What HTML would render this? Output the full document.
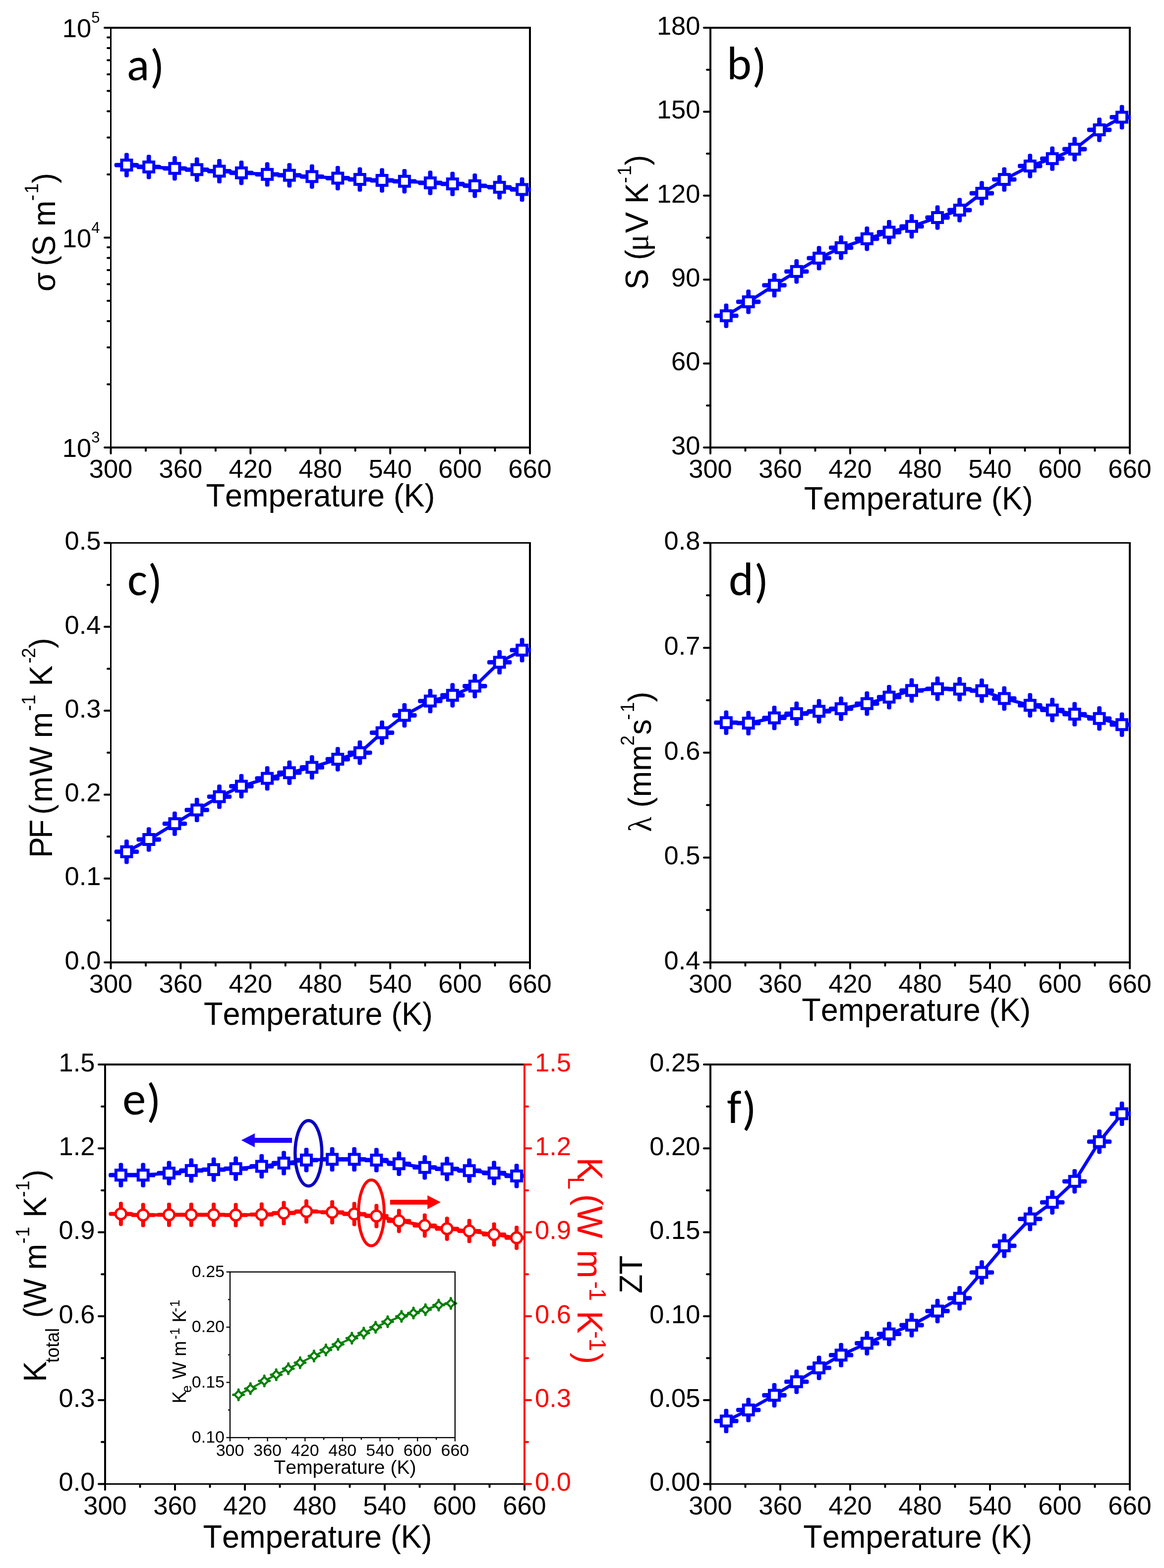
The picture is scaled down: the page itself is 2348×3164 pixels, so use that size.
<!DOCTYPE html>
<html><head><meta charset="utf-8"><title>Figure</title>
<style>html,body{margin:0;padding:0;background:#fff;}svg{display:block;}</style>
</head><body>
<svg width="2348" height="3164" viewBox="0 0 2348 3164" font-family='"Liberation Sans", Arial, sans-serif' style="font-kerning:none">
<rect width="2348" height="3164" fill="#fff"/>
<rect x="222" y="54" width="849" height="4" fill="#000"/>
<rect x="222" y="901" width="849" height="4" fill="#000"/>
<rect x="222" y="54" width="3" height="851" fill="#000"/>
<rect x="1067" y="54" width="4" height="851" fill="#000"/>
<line x1="222" y1="903.0" x2="211" y2="903.0" stroke="#000" stroke-width="4" stroke-linecap="round"/>
<line x1="222" y1="479.5" x2="211" y2="479.5" stroke="#000" stroke-width="4" stroke-linecap="round"/>
<line x1="222" y1="56.0" x2="211" y2="56.0" stroke="#000" stroke-width="4" stroke-linecap="round"/>
<line x1="222" y1="775.513796836304" x2="217" y2="775.513796836304" stroke="#000" stroke-width="4" stroke-linecap="round"/>
<line x1="222" y1="700.939148626223" x2="217" y2="700.939148626223" stroke="#000" stroke-width="4" stroke-linecap="round"/>
<line x1="222" y1="648.027593672608" x2="217" y2="648.027593672608" stroke="#000" stroke-width="4" stroke-linecap="round"/>
<line x1="222" y1="606.986203163696" x2="217" y2="606.986203163696" stroke="#000" stroke-width="4" stroke-linecap="round"/>
<line x1="222" y1="573.4529454625269" x2="217" y2="573.4529454625269" stroke="#000" stroke-width="4" stroke-linecap="round"/>
<line x1="222" y1="545.1009800539623" x2="217" y2="545.1009800539623" stroke="#000" stroke-width="4" stroke-linecap="round"/>
<line x1="222" y1="520.541390508912" x2="217" y2="520.541390508912" stroke="#000" stroke-width="4" stroke-linecap="round"/>
<line x1="222" y1="498.8782972524459" x2="217" y2="498.8782972524459" stroke="#000" stroke-width="4" stroke-linecap="round"/>
<line x1="222" y1="352.013796836304" x2="217" y2="352.013796836304" stroke="#000" stroke-width="4" stroke-linecap="round"/>
<line x1="222" y1="277.43914862622296" x2="217" y2="277.43914862622296" stroke="#000" stroke-width="4" stroke-linecap="round"/>
<line x1="222" y1="224.52759367260785" x2="217" y2="224.52759367260785" stroke="#000" stroke-width="4" stroke-linecap="round"/>
<line x1="222" y1="183.48620316369602" x2="217" y2="183.48620316369602" stroke="#000" stroke-width="4" stroke-linecap="round"/>
<line x1="222" y1="149.95294546252694" x2="217" y2="149.95294546252694" stroke="#000" stroke-width="4" stroke-linecap="round"/>
<line x1="222" y1="121.60098005396219" x2="217" y2="121.60098005396219" stroke="#000" stroke-width="4" stroke-linecap="round"/>
<line x1="222" y1="97.04139050891195" x2="217" y2="97.04139050891195" stroke="#000" stroke-width="4" stroke-linecap="round"/>
<line x1="222" y1="75.37829725244592" x2="217" y2="75.37829725244592" stroke="#000" stroke-width="4" stroke-linecap="round"/>
<line x1="223.5" y1="905" x2="223.5" y2="915" stroke="#000" stroke-width="4" stroke-linecap="round"/>
<text x="223.5" y="964.0" font-size="52.5" text-anchor="middle">300</text>
<line x1="294.0" y1="905" x2="294.0" y2="909.5" stroke="#000" stroke-width="4" stroke-linecap="round"/>
<line x1="364.4" y1="905" x2="364.4" y2="915" stroke="#000" stroke-width="4" stroke-linecap="round"/>
<text x="364.4" y="964.0" font-size="52.5" text-anchor="middle">360</text>
<line x1="434.9" y1="905" x2="434.9" y2="909.5" stroke="#000" stroke-width="4" stroke-linecap="round"/>
<line x1="505.3" y1="905" x2="505.3" y2="915" stroke="#000" stroke-width="4" stroke-linecap="round"/>
<text x="505.3" y="964.0" font-size="52.5" text-anchor="middle">420</text>
<line x1="575.8" y1="905" x2="575.8" y2="909.5" stroke="#000" stroke-width="4" stroke-linecap="round"/>
<line x1="646.2" y1="905" x2="646.2" y2="915" stroke="#000" stroke-width="4" stroke-linecap="round"/>
<text x="646.2" y="964.0" font-size="52.5" text-anchor="middle">480</text>
<line x1="716.7" y1="905" x2="716.7" y2="909.5" stroke="#000" stroke-width="4" stroke-linecap="round"/>
<line x1="787.2" y1="905" x2="787.2" y2="915" stroke="#000" stroke-width="4" stroke-linecap="round"/>
<text x="787.2" y="964.0" font-size="52.5" text-anchor="middle">540</text>
<line x1="857.6" y1="905" x2="857.6" y2="909.5" stroke="#000" stroke-width="4" stroke-linecap="round"/>
<line x1="928.1" y1="905" x2="928.1" y2="915" stroke="#000" stroke-width="4" stroke-linecap="round"/>
<text x="928.1" y="964.0" font-size="52.5" text-anchor="middle">600</text>
<line x1="998.5" y1="905" x2="998.5" y2="909.5" stroke="#000" stroke-width="4" stroke-linecap="round"/>
<line x1="1069.0" y1="905" x2="1069.0" y2="915" stroke="#000" stroke-width="4" stroke-linecap="round"/>
<text x="1069.0" y="964.0" font-size="52.5" text-anchor="middle">660</text>
<clipPath id="c1"><rect x="222" y="54" width="849" height="851"/></clipPath><g clip-path="url(#c1)">
<path d="M255.4,333.1 L300.2,336.9 L352.4,339.8 L397.2,342.3 L442.5,345.4 L486.9,348.8 L539.1,351.9 L583.8,353.7 L629.3,356.3 L681.3,359.5 L725.9,362.1 L770.6,364.0 L815.9,365.8 L867.9,369.0 L912.8,371.1 L957.8,374.8 L1007.6,377.9 L1053.1,382.4" fill="none" stroke="#0000ff" stroke-width="6.6" stroke-linejoin="round"/>
<g fill="#0000ff"><rect x="251.0" y="308.4" width="8.8" height="49.4" rx="3.4"/><rect x="230.7" y="328.7" width="49.4" height="8.8" rx="3.4"/><rect x="295.8" y="312.2" width="8.8" height="49.4" rx="3.4"/><rect x="275.5" y="332.5" width="49.4" height="8.8" rx="3.4"/><rect x="348.0" y="315.1" width="8.8" height="49.4" rx="3.4"/><rect x="327.7" y="335.4" width="49.4" height="8.8" rx="3.4"/><rect x="392.8" y="317.6" width="8.8" height="49.4" rx="3.4"/><rect x="372.5" y="337.9" width="49.4" height="8.8" rx="3.4"/><rect x="438.1" y="320.7" width="8.8" height="49.4" rx="3.4"/><rect x="417.8" y="341.0" width="49.4" height="8.8" rx="3.4"/><rect x="482.5" y="324.1" width="8.8" height="49.4" rx="3.4"/><rect x="462.2" y="344.4" width="49.4" height="8.8" rx="3.4"/><rect x="534.7" y="327.2" width="8.8" height="49.4" rx="3.4"/><rect x="514.4" y="347.5" width="49.4" height="8.8" rx="3.4"/><rect x="579.4" y="329.0" width="8.8" height="49.4" rx="3.4"/><rect x="559.1" y="349.3" width="49.4" height="8.8" rx="3.4"/><rect x="624.9" y="331.6" width="8.8" height="49.4" rx="3.4"/><rect x="604.6" y="351.9" width="49.4" height="8.8" rx="3.4"/><rect x="676.9" y="334.8" width="8.8" height="49.4" rx="3.4"/><rect x="656.6" y="355.1" width="49.4" height="8.8" rx="3.4"/><rect x="721.5" y="337.4" width="8.8" height="49.4" rx="3.4"/><rect x="701.2" y="357.7" width="49.4" height="8.8" rx="3.4"/><rect x="766.2" y="339.3" width="8.8" height="49.4" rx="3.4"/><rect x="745.9" y="359.6" width="49.4" height="8.8" rx="3.4"/><rect x="811.5" y="341.1" width="8.8" height="49.4" rx="3.4"/><rect x="791.2" y="361.4" width="49.4" height="8.8" rx="3.4"/><rect x="863.5" y="344.3" width="8.8" height="49.4" rx="3.4"/><rect x="843.2" y="364.6" width="49.4" height="8.8" rx="3.4"/><rect x="908.4" y="346.4" width="8.8" height="49.4" rx="3.4"/><rect x="888.1" y="366.7" width="49.4" height="8.8" rx="3.4"/><rect x="953.4" y="350.1" width="8.8" height="49.4" rx="3.4"/><rect x="933.1" y="370.4" width="49.4" height="8.8" rx="3.4"/><rect x="1003.2" y="353.2" width="8.8" height="49.4" rx="3.4"/><rect x="982.9" y="373.5" width="49.4" height="8.8" rx="3.4"/><rect x="1048.7" y="357.7" width="8.8" height="49.4" rx="3.4"/><rect x="1028.4" y="378.0" width="49.4" height="8.8" rx="3.4"/></g>
<rect x="245.4" y="323.1" width="20" height="20" fill="#fff" stroke="#0000ff" stroke-width="6"/>
<rect x="290.2" y="326.9" width="20" height="20" fill="#fff" stroke="#0000ff" stroke-width="6"/>
<rect x="342.4" y="329.8" width="20" height="20" fill="#fff" stroke="#0000ff" stroke-width="6"/>
<rect x="387.2" y="332.3" width="20" height="20" fill="#fff" stroke="#0000ff" stroke-width="6"/>
<rect x="432.5" y="335.4" width="20" height="20" fill="#fff" stroke="#0000ff" stroke-width="6"/>
<rect x="476.9" y="338.8" width="20" height="20" fill="#fff" stroke="#0000ff" stroke-width="6"/>
<rect x="529.1" y="341.9" width="20" height="20" fill="#fff" stroke="#0000ff" stroke-width="6"/>
<rect x="573.8" y="343.7" width="20" height="20" fill="#fff" stroke="#0000ff" stroke-width="6"/>
<rect x="619.3" y="346.3" width="20" height="20" fill="#fff" stroke="#0000ff" stroke-width="6"/>
<rect x="671.3" y="349.5" width="20" height="20" fill="#fff" stroke="#0000ff" stroke-width="6"/>
<rect x="715.9" y="352.1" width="20" height="20" fill="#fff" stroke="#0000ff" stroke-width="6"/>
<rect x="760.6" y="354.0" width="20" height="20" fill="#fff" stroke="#0000ff" stroke-width="6"/>
<rect x="805.9" y="355.8" width="20" height="20" fill="#fff" stroke="#0000ff" stroke-width="6"/>
<rect x="857.9" y="359.0" width="20" height="20" fill="#fff" stroke="#0000ff" stroke-width="6"/>
<rect x="902.8" y="361.1" width="20" height="20" fill="#fff" stroke="#0000ff" stroke-width="6"/>
<rect x="947.8" y="364.8" width="20" height="20" fill="#fff" stroke="#0000ff" stroke-width="6"/>
<rect x="997.6" y="367.9" width="20" height="20" fill="#fff" stroke="#0000ff" stroke-width="6"/>
<rect x="1043.1" y="372.4" width="20" height="20" fill="#fff" stroke="#0000ff" stroke-width="6"/>
</g>
<text x="201.5" y="922.0" font-size="52.5" text-anchor="end">10<tspan font-size="31" dy="-29">3</tspan></text>
<text x="201.5" y="498.5" font-size="52.5" text-anchor="end">10<tspan font-size="31" dy="-29">4</tspan></text>
<text x="201.5" y="75.0" font-size="52.5" text-anchor="end">10<tspan font-size="31" dy="-29">5</tspan></text>
<rect x="1431" y="54" width="850" height="4" fill="#000"/>
<rect x="1431" y="901" width="850" height="4" fill="#000"/>
<rect x="1431" y="54" width="4" height="851" fill="#000"/>
<rect x="2277" y="54" width="4" height="851" fill="#000"/>
<line x1="1431" y1="903.0" x2="1420" y2="903.0" stroke="#000" stroke-width="4" stroke-linecap="round"/>
<line x1="1431" y1="733.6" x2="1420" y2="733.6" stroke="#000" stroke-width="4" stroke-linecap="round"/>
<line x1="1431" y1="564.2" x2="1420" y2="564.2" stroke="#000" stroke-width="4" stroke-linecap="round"/>
<line x1="1431" y1="394.79999999999995" x2="1420" y2="394.79999999999995" stroke="#000" stroke-width="4" stroke-linecap="round"/>
<line x1="1431" y1="225.39999999999998" x2="1420" y2="225.39999999999998" stroke="#000" stroke-width="4" stroke-linecap="round"/>
<line x1="1431" y1="56.0" x2="1420" y2="56.0" stroke="#000" stroke-width="4" stroke-linecap="round"/>
<line x1="1431" y1="818.3" x2="1426" y2="818.3" stroke="#000" stroke-width="4" stroke-linecap="round"/>
<line x1="1431" y1="648.9" x2="1426" y2="648.9" stroke="#000" stroke-width="4" stroke-linecap="round"/>
<line x1="1431" y1="479.5" x2="1426" y2="479.5" stroke="#000" stroke-width="4" stroke-linecap="round"/>
<line x1="1431" y1="310.1" x2="1426" y2="310.1" stroke="#000" stroke-width="4" stroke-linecap="round"/>
<line x1="1431" y1="140.69999999999993" x2="1426" y2="140.69999999999993" stroke="#000" stroke-width="4" stroke-linecap="round"/>
<line x1="1433.0" y1="905" x2="1433.0" y2="915" stroke="#000" stroke-width="4" stroke-linecap="round"/>
<text x="1433.0" y="964.0" font-size="52.5" text-anchor="middle">300</text>
<line x1="1503.5" y1="905" x2="1503.5" y2="909.5" stroke="#000" stroke-width="4" stroke-linecap="round"/>
<line x1="1574.0" y1="905" x2="1574.0" y2="915" stroke="#000" stroke-width="4" stroke-linecap="round"/>
<text x="1574.0" y="964.0" font-size="52.5" text-anchor="middle">360</text>
<line x1="1644.5" y1="905" x2="1644.5" y2="909.5" stroke="#000" stroke-width="4" stroke-linecap="round"/>
<line x1="1715.0" y1="905" x2="1715.0" y2="915" stroke="#000" stroke-width="4" stroke-linecap="round"/>
<text x="1715.0" y="964.0" font-size="52.5" text-anchor="middle">420</text>
<line x1="1785.5" y1="905" x2="1785.5" y2="909.5" stroke="#000" stroke-width="4" stroke-linecap="round"/>
<line x1="1856.0" y1="905" x2="1856.0" y2="915" stroke="#000" stroke-width="4" stroke-linecap="round"/>
<text x="1856.0" y="964.0" font-size="52.5" text-anchor="middle">480</text>
<line x1="1926.5" y1="905" x2="1926.5" y2="909.5" stroke="#000" stroke-width="4" stroke-linecap="round"/>
<line x1="1997.0" y1="905" x2="1997.0" y2="915" stroke="#000" stroke-width="4" stroke-linecap="round"/>
<text x="1997.0" y="964.0" font-size="52.5" text-anchor="middle">540</text>
<line x1="2067.5" y1="905" x2="2067.5" y2="909.5" stroke="#000" stroke-width="4" stroke-linecap="round"/>
<line x1="2138.0" y1="905" x2="2138.0" y2="915" stroke="#000" stroke-width="4" stroke-linecap="round"/>
<text x="2138.0" y="964.0" font-size="52.5" text-anchor="middle">600</text>
<line x1="2208.5" y1="905" x2="2208.5" y2="909.5" stroke="#000" stroke-width="4" stroke-linecap="round"/>
<line x1="2279.0" y1="905" x2="2279.0" y2="915" stroke="#000" stroke-width="4" stroke-linecap="round"/>
<text x="2279.0" y="964.0" font-size="52.5" text-anchor="middle">660</text>
<clipPath id="c2"><rect x="1431" y="54" width="850" height="851"/></clipPath><g clip-path="url(#c2)">
<path d="M1464.9,637.2 L1509.7,609.0 L1562.0,575.6 L1606.8,547.8 L1652.1,520.9 L1696.6,499.8 L1748.8,481.8 L1793.5,468.5 L1839.0,456.8 L1891.1,439.0 L1935.7,424.0 L1980.4,390.0 L2025.8,362.1 L2077.8,335.0 L2122.7,320.1 L2167.7,301.0 L2217.6,262.0 L2263.1,236.5" fill="none" stroke="#0000ff" stroke-width="6.6" stroke-linejoin="round"/>
<g fill="#0000ff"><rect x="1460.5" y="612.5" width="8.8" height="49.4" rx="3.4"/><rect x="1440.2" y="632.8" width="49.4" height="8.8" rx="3.4"/><rect x="1505.3" y="584.3" width="8.8" height="49.4" rx="3.4"/><rect x="1485.0" y="604.6" width="49.4" height="8.8" rx="3.4"/><rect x="1557.6" y="550.9" width="8.8" height="49.4" rx="3.4"/><rect x="1537.3" y="571.2" width="49.4" height="8.8" rx="3.4"/><rect x="1602.4" y="523.1" width="8.8" height="49.4" rx="3.4"/><rect x="1582.1" y="543.4" width="49.4" height="8.8" rx="3.4"/><rect x="1647.7" y="496.2" width="8.8" height="49.4" rx="3.4"/><rect x="1627.4" y="516.5" width="49.4" height="8.8" rx="3.4"/><rect x="1692.2" y="475.1" width="8.8" height="49.4" rx="3.4"/><rect x="1671.9" y="495.4" width="49.4" height="8.8" rx="3.4"/><rect x="1744.4" y="457.1" width="8.8" height="49.4" rx="3.4"/><rect x="1724.1" y="477.4" width="49.4" height="8.8" rx="3.4"/><rect x="1789.1" y="443.8" width="8.8" height="49.4" rx="3.4"/><rect x="1768.8" y="464.1" width="49.4" height="8.8" rx="3.4"/><rect x="1834.6" y="432.1" width="8.8" height="49.4" rx="3.4"/><rect x="1814.3" y="452.4" width="49.4" height="8.8" rx="3.4"/><rect x="1886.7" y="414.3" width="8.8" height="49.4" rx="3.4"/><rect x="1866.4" y="434.6" width="49.4" height="8.8" rx="3.4"/><rect x="1931.3" y="399.3" width="8.8" height="49.4" rx="3.4"/><rect x="1911.0" y="419.6" width="49.4" height="8.8" rx="3.4"/><rect x="1976.0" y="365.3" width="8.8" height="49.4" rx="3.4"/><rect x="1955.7" y="385.6" width="49.4" height="8.8" rx="3.4"/><rect x="2021.4" y="337.4" width="8.8" height="49.4" rx="3.4"/><rect x="2001.1" y="357.7" width="49.4" height="8.8" rx="3.4"/><rect x="2073.4" y="310.3" width="8.8" height="49.4" rx="3.4"/><rect x="2053.1" y="330.6" width="49.4" height="8.8" rx="3.4"/><rect x="2118.3" y="295.4" width="8.8" height="49.4" rx="3.4"/><rect x="2098.0" y="315.7" width="49.4" height="8.8" rx="3.4"/><rect x="2163.3" y="276.3" width="8.8" height="49.4" rx="3.4"/><rect x="2143.0" y="296.6" width="49.4" height="8.8" rx="3.4"/><rect x="2213.2" y="237.3" width="8.8" height="49.4" rx="3.4"/><rect x="2192.9" y="257.6" width="49.4" height="8.8" rx="3.4"/><rect x="2258.7" y="211.8" width="8.8" height="49.4" rx="3.4"/><rect x="2238.4" y="232.1" width="49.4" height="8.8" rx="3.4"/></g>
<rect x="1454.9" y="627.2" width="20" height="20" fill="#fff" stroke="#0000ff" stroke-width="6"/>
<rect x="1499.7" y="599.0" width="20" height="20" fill="#fff" stroke="#0000ff" stroke-width="6"/>
<rect x="1552.0" y="565.6" width="20" height="20" fill="#fff" stroke="#0000ff" stroke-width="6"/>
<rect x="1596.8" y="537.8" width="20" height="20" fill="#fff" stroke="#0000ff" stroke-width="6"/>
<rect x="1642.1" y="510.9" width="20" height="20" fill="#fff" stroke="#0000ff" stroke-width="6"/>
<rect x="1686.6" y="489.8" width="20" height="20" fill="#fff" stroke="#0000ff" stroke-width="6"/>
<rect x="1738.8" y="471.8" width="20" height="20" fill="#fff" stroke="#0000ff" stroke-width="6"/>
<rect x="1783.5" y="458.5" width="20" height="20" fill="#fff" stroke="#0000ff" stroke-width="6"/>
<rect x="1829.0" y="446.8" width="20" height="20" fill="#fff" stroke="#0000ff" stroke-width="6"/>
<rect x="1881.1" y="429.0" width="20" height="20" fill="#fff" stroke="#0000ff" stroke-width="6"/>
<rect x="1925.7" y="414.0" width="20" height="20" fill="#fff" stroke="#0000ff" stroke-width="6"/>
<rect x="1970.4" y="380.0" width="20" height="20" fill="#fff" stroke="#0000ff" stroke-width="6"/>
<rect x="2015.8" y="352.1" width="20" height="20" fill="#fff" stroke="#0000ff" stroke-width="6"/>
<rect x="2067.8" y="325.0" width="20" height="20" fill="#fff" stroke="#0000ff" stroke-width="6"/>
<rect x="2112.7" y="310.1" width="20" height="20" fill="#fff" stroke="#0000ff" stroke-width="6"/>
<rect x="2157.7" y="291.0" width="20" height="20" fill="#fff" stroke="#0000ff" stroke-width="6"/>
<rect x="2207.6" y="252.0" width="20" height="20" fill="#fff" stroke="#0000ff" stroke-width="6"/>
<rect x="2253.1" y="226.5" width="20" height="20" fill="#fff" stroke="#0000ff" stroke-width="6"/>
</g>
<text x="1412.5" y="916.7" font-size="52.5" text-anchor="end" fill="#000">30</text>
<text x="1412.5" y="747.3" font-size="52.5" text-anchor="end" fill="#000">60</text>
<text x="1412.5" y="577.9" font-size="52.5" text-anchor="end" fill="#000">90</text>
<text x="1412.5" y="408.5" font-size="52.5" text-anchor="end" fill="#000">120</text>
<text x="1412.5" y="239.1" font-size="52.5" text-anchor="end" fill="#000">150</text>
<text x="1412.5" y="69.7" font-size="52.5" text-anchor="end" fill="#000">180</text>
<rect x="222" y="1094" width="849" height="3" fill="#000"/>
<rect x="222" y="1940" width="849" height="4" fill="#000"/>
<rect x="222" y="1094" width="3" height="850" fill="#000"/>
<rect x="1067" y="1094" width="4" height="850" fill="#000"/>
<line x1="222" y1="1942.0" x2="211" y2="1942.0" stroke="#000" stroke-width="4" stroke-linecap="round"/>
<line x1="222" y1="1772.7" x2="211" y2="1772.7" stroke="#000" stroke-width="4" stroke-linecap="round"/>
<line x1="222" y1="1603.4" x2="211" y2="1603.4" stroke="#000" stroke-width="4" stroke-linecap="round"/>
<line x1="222" y1="1434.1" x2="211" y2="1434.1" stroke="#000" stroke-width="4" stroke-linecap="round"/>
<line x1="222" y1="1264.8" x2="211" y2="1264.8" stroke="#000" stroke-width="4" stroke-linecap="round"/>
<line x1="222" y1="1095.5" x2="211" y2="1095.5" stroke="#000" stroke-width="4" stroke-linecap="round"/>
<line x1="222" y1="1857.35" x2="217" y2="1857.35" stroke="#000" stroke-width="4" stroke-linecap="round"/>
<line x1="222" y1="1688.05" x2="217" y2="1688.05" stroke="#000" stroke-width="4" stroke-linecap="round"/>
<line x1="222" y1="1518.75" x2="217" y2="1518.75" stroke="#000" stroke-width="4" stroke-linecap="round"/>
<line x1="222" y1="1349.4499999999998" x2="217" y2="1349.4499999999998" stroke="#000" stroke-width="4" stroke-linecap="round"/>
<line x1="222" y1="1180.15" x2="217" y2="1180.15" stroke="#000" stroke-width="4" stroke-linecap="round"/>
<line x1="223.5" y1="1944" x2="223.5" y2="1954" stroke="#000" stroke-width="4" stroke-linecap="round"/>
<text x="223.5" y="2003.0" font-size="52.5" text-anchor="middle">300</text>
<line x1="294.0" y1="1944" x2="294.0" y2="1948.5" stroke="#000" stroke-width="4" stroke-linecap="round"/>
<line x1="364.4" y1="1944" x2="364.4" y2="1954" stroke="#000" stroke-width="4" stroke-linecap="round"/>
<text x="364.4" y="2003.0" font-size="52.5" text-anchor="middle">360</text>
<line x1="434.9" y1="1944" x2="434.9" y2="1948.5" stroke="#000" stroke-width="4" stroke-linecap="round"/>
<line x1="505.3" y1="1944" x2="505.3" y2="1954" stroke="#000" stroke-width="4" stroke-linecap="round"/>
<text x="505.3" y="2003.0" font-size="52.5" text-anchor="middle">420</text>
<line x1="575.8" y1="1944" x2="575.8" y2="1948.5" stroke="#000" stroke-width="4" stroke-linecap="round"/>
<line x1="646.2" y1="1944" x2="646.2" y2="1954" stroke="#000" stroke-width="4" stroke-linecap="round"/>
<text x="646.2" y="2003.0" font-size="52.5" text-anchor="middle">480</text>
<line x1="716.7" y1="1944" x2="716.7" y2="1948.5" stroke="#000" stroke-width="4" stroke-linecap="round"/>
<line x1="787.2" y1="1944" x2="787.2" y2="1954" stroke="#000" stroke-width="4" stroke-linecap="round"/>
<text x="787.2" y="2003.0" font-size="52.5" text-anchor="middle">540</text>
<line x1="857.6" y1="1944" x2="857.6" y2="1948.5" stroke="#000" stroke-width="4" stroke-linecap="round"/>
<line x1="928.1" y1="1944" x2="928.1" y2="1954" stroke="#000" stroke-width="4" stroke-linecap="round"/>
<text x="928.1" y="2003.0" font-size="52.5" text-anchor="middle">600</text>
<line x1="998.5" y1="1944" x2="998.5" y2="1948.5" stroke="#000" stroke-width="4" stroke-linecap="round"/>
<line x1="1069.0" y1="1944" x2="1069.0" y2="1954" stroke="#000" stroke-width="4" stroke-linecap="round"/>
<text x="1069.0" y="2003.0" font-size="52.5" text-anchor="middle">660</text>
<clipPath id="c3"><rect x="222" y="1094" width="849" height="850"/></clipPath><g clip-path="url(#c3)">
<path d="M255.4,1718.7 L300.2,1694.0 L352.4,1662.1 L397.2,1634.4 L442.5,1607.6 L486.9,1586.5 L539.1,1570.6 L583.8,1559.2 L629.3,1548.4 L681.3,1532.0 L725.9,1518.8 L770.6,1478.5 L815.9,1443.5 L867.9,1414.6 L912.8,1403.0 L957.8,1384.5 L1007.6,1336.4 L1053.1,1311.9" fill="none" stroke="#0000ff" stroke-width="6.6" stroke-linejoin="round"/>
<g fill="#0000ff"><rect x="251.0" y="1694.0" width="8.8" height="49.4" rx="3.4"/><rect x="230.7" y="1714.3" width="49.4" height="8.8" rx="3.4"/><rect x="295.8" y="1669.3" width="8.8" height="49.4" rx="3.4"/><rect x="275.5" y="1689.6" width="49.4" height="8.8" rx="3.4"/><rect x="348.0" y="1637.4" width="8.8" height="49.4" rx="3.4"/><rect x="327.7" y="1657.7" width="49.4" height="8.8" rx="3.4"/><rect x="392.8" y="1609.7" width="8.8" height="49.4" rx="3.4"/><rect x="372.5" y="1630.0" width="49.4" height="8.8" rx="3.4"/><rect x="438.1" y="1582.9" width="8.8" height="49.4" rx="3.4"/><rect x="417.8" y="1603.2" width="49.4" height="8.8" rx="3.4"/><rect x="482.5" y="1561.8" width="8.8" height="49.4" rx="3.4"/><rect x="462.2" y="1582.1" width="49.4" height="8.8" rx="3.4"/><rect x="534.7" y="1545.9" width="8.8" height="49.4" rx="3.4"/><rect x="514.4" y="1566.2" width="49.4" height="8.8" rx="3.4"/><rect x="579.4" y="1534.5" width="8.8" height="49.4" rx="3.4"/><rect x="559.1" y="1554.8" width="49.4" height="8.8" rx="3.4"/><rect x="624.9" y="1523.7" width="8.8" height="49.4" rx="3.4"/><rect x="604.6" y="1544.0" width="49.4" height="8.8" rx="3.4"/><rect x="676.9" y="1507.3" width="8.8" height="49.4" rx="3.4"/><rect x="656.6" y="1527.6" width="49.4" height="8.8" rx="3.4"/><rect x="721.5" y="1494.1" width="8.8" height="49.4" rx="3.4"/><rect x="701.2" y="1514.4" width="49.4" height="8.8" rx="3.4"/><rect x="766.2" y="1453.8" width="8.8" height="49.4" rx="3.4"/><rect x="745.9" y="1474.1" width="49.4" height="8.8" rx="3.4"/><rect x="811.5" y="1418.8" width="8.8" height="49.4" rx="3.4"/><rect x="791.2" y="1439.1" width="49.4" height="8.8" rx="3.4"/><rect x="863.5" y="1389.9" width="8.8" height="49.4" rx="3.4"/><rect x="843.2" y="1410.2" width="49.4" height="8.8" rx="3.4"/><rect x="908.4" y="1378.3" width="8.8" height="49.4" rx="3.4"/><rect x="888.1" y="1398.6" width="49.4" height="8.8" rx="3.4"/><rect x="953.4" y="1359.8" width="8.8" height="49.4" rx="3.4"/><rect x="933.1" y="1380.1" width="49.4" height="8.8" rx="3.4"/><rect x="1003.2" y="1311.7" width="8.8" height="49.4" rx="3.4"/><rect x="982.9" y="1332.0" width="49.4" height="8.8" rx="3.4"/><rect x="1048.7" y="1287.2" width="8.8" height="49.4" rx="3.4"/><rect x="1028.4" y="1307.5" width="49.4" height="8.8" rx="3.4"/></g>
<rect x="245.4" y="1708.7" width="20" height="20" fill="#fff" stroke="#0000ff" stroke-width="6"/>
<rect x="290.2" y="1684.0" width="20" height="20" fill="#fff" stroke="#0000ff" stroke-width="6"/>
<rect x="342.4" y="1652.1" width="20" height="20" fill="#fff" stroke="#0000ff" stroke-width="6"/>
<rect x="387.2" y="1624.4" width="20" height="20" fill="#fff" stroke="#0000ff" stroke-width="6"/>
<rect x="432.5" y="1597.6" width="20" height="20" fill="#fff" stroke="#0000ff" stroke-width="6"/>
<rect x="476.9" y="1576.5" width="20" height="20" fill="#fff" stroke="#0000ff" stroke-width="6"/>
<rect x="529.1" y="1560.6" width="20" height="20" fill="#fff" stroke="#0000ff" stroke-width="6"/>
<rect x="573.8" y="1549.2" width="20" height="20" fill="#fff" stroke="#0000ff" stroke-width="6"/>
<rect x="619.3" y="1538.4" width="20" height="20" fill="#fff" stroke="#0000ff" stroke-width="6"/>
<rect x="671.3" y="1522.0" width="20" height="20" fill="#fff" stroke="#0000ff" stroke-width="6"/>
<rect x="715.9" y="1508.8" width="20" height="20" fill="#fff" stroke="#0000ff" stroke-width="6"/>
<rect x="760.6" y="1468.5" width="20" height="20" fill="#fff" stroke="#0000ff" stroke-width="6"/>
<rect x="805.9" y="1433.5" width="20" height="20" fill="#fff" stroke="#0000ff" stroke-width="6"/>
<rect x="857.9" y="1404.6" width="20" height="20" fill="#fff" stroke="#0000ff" stroke-width="6"/>
<rect x="902.8" y="1393.0" width="20" height="20" fill="#fff" stroke="#0000ff" stroke-width="6"/>
<rect x="947.8" y="1374.5" width="20" height="20" fill="#fff" stroke="#0000ff" stroke-width="6"/>
<rect x="997.6" y="1326.4" width="20" height="20" fill="#fff" stroke="#0000ff" stroke-width="6"/>
<rect x="1043.1" y="1301.9" width="20" height="20" fill="#fff" stroke="#0000ff" stroke-width="6"/>
</g>
<text x="203.5" y="1955.7" font-size="52.5" text-anchor="end" fill="#000">0.0</text>
<text x="203.5" y="1786.4" font-size="52.5" text-anchor="end" fill="#000">0.1</text>
<text x="203.5" y="1617.1" font-size="52.5" text-anchor="end" fill="#000">0.2</text>
<text x="203.5" y="1447.8" font-size="52.5" text-anchor="end" fill="#000">0.3</text>
<text x="203.5" y="1278.5" font-size="52.5" text-anchor="end" fill="#000">0.4</text>
<text x="203.5" y="1109.2" font-size="52.5" text-anchor="end" fill="#000">0.5</text>
<rect x="1431" y="1094" width="850" height="3" fill="#000"/>
<rect x="1431" y="1940" width="850" height="4" fill="#000"/>
<rect x="1431" y="1094" width="4" height="850" fill="#000"/>
<rect x="2277" y="1094" width="4" height="850" fill="#000"/>
<line x1="1431" y1="1942.0" x2="1420" y2="1942.0" stroke="#000" stroke-width="4" stroke-linecap="round"/>
<line x1="1431" y1="1730.375" x2="1420" y2="1730.375" stroke="#000" stroke-width="4" stroke-linecap="round"/>
<line x1="1431" y1="1518.75" x2="1420" y2="1518.75" stroke="#000" stroke-width="4" stroke-linecap="round"/>
<line x1="1431" y1="1307.125" x2="1420" y2="1307.125" stroke="#000" stroke-width="4" stroke-linecap="round"/>
<line x1="1431" y1="1095.5" x2="1420" y2="1095.5" stroke="#000" stroke-width="4" stroke-linecap="round"/>
<line x1="1431" y1="1836.1875" x2="1426" y2="1836.1875" stroke="#000" stroke-width="4" stroke-linecap="round"/>
<line x1="1431" y1="1624.5625" x2="1426" y2="1624.5625" stroke="#000" stroke-width="4" stroke-linecap="round"/>
<line x1="1431" y1="1412.9375" x2="1426" y2="1412.9375" stroke="#000" stroke-width="4" stroke-linecap="round"/>
<line x1="1431" y1="1201.3125" x2="1426" y2="1201.3125" stroke="#000" stroke-width="4" stroke-linecap="round"/>
<line x1="1433.0" y1="1944" x2="1433.0" y2="1954" stroke="#000" stroke-width="4" stroke-linecap="round"/>
<text x="1433.0" y="2003.0" font-size="52.5" text-anchor="middle">300</text>
<line x1="1503.5" y1="1944" x2="1503.5" y2="1948.5" stroke="#000" stroke-width="4" stroke-linecap="round"/>
<line x1="1574.0" y1="1944" x2="1574.0" y2="1954" stroke="#000" stroke-width="4" stroke-linecap="round"/>
<text x="1574.0" y="2003.0" font-size="52.5" text-anchor="middle">360</text>
<line x1="1644.5" y1="1944" x2="1644.5" y2="1948.5" stroke="#000" stroke-width="4" stroke-linecap="round"/>
<line x1="1715.0" y1="1944" x2="1715.0" y2="1954" stroke="#000" stroke-width="4" stroke-linecap="round"/>
<text x="1715.0" y="2003.0" font-size="52.5" text-anchor="middle">420</text>
<line x1="1785.5" y1="1944" x2="1785.5" y2="1948.5" stroke="#000" stroke-width="4" stroke-linecap="round"/>
<line x1="1856.0" y1="1944" x2="1856.0" y2="1954" stroke="#000" stroke-width="4" stroke-linecap="round"/>
<text x="1856.0" y="2003.0" font-size="52.5" text-anchor="middle">480</text>
<line x1="1926.5" y1="1944" x2="1926.5" y2="1948.5" stroke="#000" stroke-width="4" stroke-linecap="round"/>
<line x1="1997.0" y1="1944" x2="1997.0" y2="1954" stroke="#000" stroke-width="4" stroke-linecap="round"/>
<text x="1997.0" y="2003.0" font-size="52.5" text-anchor="middle">540</text>
<line x1="2067.5" y1="1944" x2="2067.5" y2="1948.5" stroke="#000" stroke-width="4" stroke-linecap="round"/>
<line x1="2138.0" y1="1944" x2="2138.0" y2="1954" stroke="#000" stroke-width="4" stroke-linecap="round"/>
<text x="2138.0" y="2003.0" font-size="52.5" text-anchor="middle">600</text>
<line x1="2208.5" y1="1944" x2="2208.5" y2="1948.5" stroke="#000" stroke-width="4" stroke-linecap="round"/>
<line x1="2279.0" y1="1944" x2="2279.0" y2="1954" stroke="#000" stroke-width="4" stroke-linecap="round"/>
<text x="2279.0" y="2003.0" font-size="52.5" text-anchor="middle">660</text>
<clipPath id="c4"><rect x="1431" y="1094" width="850" height="850"/></clipPath><g clip-path="url(#c4)">
<path d="M1464.9,1458.2 L1509.7,1459.2 L1562.0,1448.6 L1606.8,1440.1 L1652.1,1435.3 L1696.6,1430.1 L1748.8,1419.8 L1793.5,1406.7 L1839.0,1393.3 L1891.1,1389.8 L1935.7,1390.6 L1980.4,1393.7 L2025.8,1409.5 L2077.8,1423.2 L2122.7,1432.7 L2167.7,1441.1 L2217.6,1449.8 L2263.1,1462.2" fill="none" stroke="#0000ff" stroke-width="6.6" stroke-linejoin="round"/>
<g fill="#0000ff"><rect x="1460.5" y="1433.5" width="8.8" height="49.4" rx="3.4"/><rect x="1440.2" y="1453.8" width="49.4" height="8.8" rx="3.4"/><rect x="1505.3" y="1434.5" width="8.8" height="49.4" rx="3.4"/><rect x="1485.0" y="1454.8" width="49.4" height="8.8" rx="3.4"/><rect x="1557.6" y="1423.9" width="8.8" height="49.4" rx="3.4"/><rect x="1537.3" y="1444.2" width="49.4" height="8.8" rx="3.4"/><rect x="1602.4" y="1415.4" width="8.8" height="49.4" rx="3.4"/><rect x="1582.1" y="1435.7" width="49.4" height="8.8" rx="3.4"/><rect x="1647.7" y="1410.6" width="8.8" height="49.4" rx="3.4"/><rect x="1627.4" y="1430.9" width="49.4" height="8.8" rx="3.4"/><rect x="1692.2" y="1405.4" width="8.8" height="49.4" rx="3.4"/><rect x="1671.9" y="1425.7" width="49.4" height="8.8" rx="3.4"/><rect x="1744.4" y="1395.1" width="8.8" height="49.4" rx="3.4"/><rect x="1724.1" y="1415.4" width="49.4" height="8.8" rx="3.4"/><rect x="1789.1" y="1382.0" width="8.8" height="49.4" rx="3.4"/><rect x="1768.8" y="1402.3" width="49.4" height="8.8" rx="3.4"/><rect x="1834.6" y="1368.6" width="8.8" height="49.4" rx="3.4"/><rect x="1814.3" y="1388.9" width="49.4" height="8.8" rx="3.4"/><rect x="1886.7" y="1365.1" width="8.8" height="49.4" rx="3.4"/><rect x="1866.4" y="1385.4" width="49.4" height="8.8" rx="3.4"/><rect x="1931.3" y="1365.9" width="8.8" height="49.4" rx="3.4"/><rect x="1911.0" y="1386.2" width="49.4" height="8.8" rx="3.4"/><rect x="1976.0" y="1369.0" width="8.8" height="49.4" rx="3.4"/><rect x="1955.7" y="1389.3" width="49.4" height="8.8" rx="3.4"/><rect x="2021.4" y="1384.8" width="8.8" height="49.4" rx="3.4"/><rect x="2001.1" y="1405.1" width="49.4" height="8.8" rx="3.4"/><rect x="2073.4" y="1398.5" width="8.8" height="49.4" rx="3.4"/><rect x="2053.1" y="1418.8" width="49.4" height="8.8" rx="3.4"/><rect x="2118.3" y="1408.0" width="8.8" height="49.4" rx="3.4"/><rect x="2098.0" y="1428.3" width="49.4" height="8.8" rx="3.4"/><rect x="2163.3" y="1416.4" width="8.8" height="49.4" rx="3.4"/><rect x="2143.0" y="1436.7" width="49.4" height="8.8" rx="3.4"/><rect x="2213.2" y="1425.1" width="8.8" height="49.4" rx="3.4"/><rect x="2192.9" y="1445.4" width="49.4" height="8.8" rx="3.4"/><rect x="2258.7" y="1437.5" width="8.8" height="49.4" rx="3.4"/><rect x="2238.4" y="1457.8" width="49.4" height="8.8" rx="3.4"/></g>
<rect x="1454.9" y="1448.2" width="20" height="20" fill="#fff" stroke="#0000ff" stroke-width="6"/>
<rect x="1499.7" y="1449.2" width="20" height="20" fill="#fff" stroke="#0000ff" stroke-width="6"/>
<rect x="1552.0" y="1438.6" width="20" height="20" fill="#fff" stroke="#0000ff" stroke-width="6"/>
<rect x="1596.8" y="1430.1" width="20" height="20" fill="#fff" stroke="#0000ff" stroke-width="6"/>
<rect x="1642.1" y="1425.3" width="20" height="20" fill="#fff" stroke="#0000ff" stroke-width="6"/>
<rect x="1686.6" y="1420.1" width="20" height="20" fill="#fff" stroke="#0000ff" stroke-width="6"/>
<rect x="1738.8" y="1409.8" width="20" height="20" fill="#fff" stroke="#0000ff" stroke-width="6"/>
<rect x="1783.5" y="1396.7" width="20" height="20" fill="#fff" stroke="#0000ff" stroke-width="6"/>
<rect x="1829.0" y="1383.3" width="20" height="20" fill="#fff" stroke="#0000ff" stroke-width="6"/>
<rect x="1881.1" y="1379.8" width="20" height="20" fill="#fff" stroke="#0000ff" stroke-width="6"/>
<rect x="1925.7" y="1380.6" width="20" height="20" fill="#fff" stroke="#0000ff" stroke-width="6"/>
<rect x="1970.4" y="1383.7" width="20" height="20" fill="#fff" stroke="#0000ff" stroke-width="6"/>
<rect x="2015.8" y="1399.5" width="20" height="20" fill="#fff" stroke="#0000ff" stroke-width="6"/>
<rect x="2067.8" y="1413.2" width="20" height="20" fill="#fff" stroke="#0000ff" stroke-width="6"/>
<rect x="2112.7" y="1422.7" width="20" height="20" fill="#fff" stroke="#0000ff" stroke-width="6"/>
<rect x="2157.7" y="1431.1" width="20" height="20" fill="#fff" stroke="#0000ff" stroke-width="6"/>
<rect x="2207.6" y="1439.8" width="20" height="20" fill="#fff" stroke="#0000ff" stroke-width="6"/>
<rect x="2253.1" y="1452.2" width="20" height="20" fill="#fff" stroke="#0000ff" stroke-width="6"/>
</g>
<text x="1412.5" y="1955.7" font-size="52.5" text-anchor="end" fill="#000">0.4</text>
<text x="1412.5" y="1744.1" font-size="52.5" text-anchor="end" fill="#000">0.5</text>
<text x="1412.5" y="1532.5" font-size="52.5" text-anchor="end" fill="#000">0.6</text>
<text x="1412.5" y="1320.8" font-size="52.5" text-anchor="end" fill="#000">0.7</text>
<text x="1412.5" y="1109.2" font-size="52.5" text-anchor="end" fill="#000">0.8</text>
<rect x="210" y="2146" width="850" height="4" fill="#000"/>
<rect x="210" y="2993" width="850" height="3" fill="#000"/>
<rect x="210" y="2146" width="4" height="850" fill="#000"/>
<rect x="1056" y="2146" width="4" height="850" fill="#000"/>
<line x1="210" y1="2994.5" x2="199" y2="2994.5" stroke="#000" stroke-width="4" stroke-linecap="round"/>
<line x1="210" y1="2825.2" x2="199" y2="2825.2" stroke="#000" stroke-width="4" stroke-linecap="round"/>
<line x1="210" y1="2655.9" x2="199" y2="2655.9" stroke="#000" stroke-width="4" stroke-linecap="round"/>
<line x1="210" y1="2486.6" x2="199" y2="2486.6" stroke="#000" stroke-width="4" stroke-linecap="round"/>
<line x1="210" y1="2317.3" x2="199" y2="2317.3" stroke="#000" stroke-width="4" stroke-linecap="round"/>
<line x1="210" y1="2148.0" x2="199" y2="2148.0" stroke="#000" stroke-width="4" stroke-linecap="round"/>
<line x1="210" y1="2909.85" x2="205" y2="2909.85" stroke="#000" stroke-width="4" stroke-linecap="round"/>
<line x1="210" y1="2740.55" x2="205" y2="2740.55" stroke="#000" stroke-width="4" stroke-linecap="round"/>
<line x1="210" y1="2571.25" x2="205" y2="2571.25" stroke="#000" stroke-width="4" stroke-linecap="round"/>
<line x1="210" y1="2401.95" x2="205" y2="2401.95" stroke="#000" stroke-width="4" stroke-linecap="round"/>
<line x1="210" y1="2232.65" x2="205" y2="2232.65" stroke="#000" stroke-width="4" stroke-linecap="round"/>
<line x1="212.0" y1="2996" x2="212.0" y2="3006" stroke="#000" stroke-width="4" stroke-linecap="round"/>
<text x="212.0" y="3055.5" font-size="52.5" text-anchor="middle">300</text>
<line x1="282.5" y1="2996" x2="282.5" y2="3000.5" stroke="#000" stroke-width="4" stroke-linecap="round"/>
<line x1="353.0" y1="2996" x2="353.0" y2="3006" stroke="#000" stroke-width="4" stroke-linecap="round"/>
<text x="353.0" y="3055.5" font-size="52.5" text-anchor="middle">360</text>
<line x1="423.5" y1="2996" x2="423.5" y2="3000.5" stroke="#000" stroke-width="4" stroke-linecap="round"/>
<line x1="494.0" y1="2996" x2="494.0" y2="3006" stroke="#000" stroke-width="4" stroke-linecap="round"/>
<text x="494.0" y="3055.5" font-size="52.5" text-anchor="middle">420</text>
<line x1="564.5" y1="2996" x2="564.5" y2="3000.5" stroke="#000" stroke-width="4" stroke-linecap="round"/>
<line x1="635.0" y1="2996" x2="635.0" y2="3006" stroke="#000" stroke-width="4" stroke-linecap="round"/>
<text x="635.0" y="3055.5" font-size="52.5" text-anchor="middle">480</text>
<line x1="705.5" y1="2996" x2="705.5" y2="3000.5" stroke="#000" stroke-width="4" stroke-linecap="round"/>
<line x1="776.0" y1="2996" x2="776.0" y2="3006" stroke="#000" stroke-width="4" stroke-linecap="round"/>
<text x="776.0" y="3055.5" font-size="52.5" text-anchor="middle">540</text>
<line x1="846.5" y1="2996" x2="846.5" y2="3000.5" stroke="#000" stroke-width="4" stroke-linecap="round"/>
<line x1="917.0" y1="2996" x2="917.0" y2="3006" stroke="#000" stroke-width="4" stroke-linecap="round"/>
<text x="917.0" y="3055.5" font-size="52.5" text-anchor="middle">600</text>
<line x1="987.5" y1="2996" x2="987.5" y2="3000.5" stroke="#000" stroke-width="4" stroke-linecap="round"/>
<line x1="1058.0" y1="2996" x2="1058.0" y2="3006" stroke="#000" stroke-width="4" stroke-linecap="round"/>
<text x="1058.0" y="3055.5" font-size="52.5" text-anchor="middle">660</text>
<clipPath id="c5"><rect x="210" y="2146" width="850" height="850"/></clipPath><g clip-path="url(#c5)">
<path d="M243.9,2371.2 L288.7,2371.2 L341.0,2367.2 L385.8,2361.9 L431.1,2360.1 L475.6,2358.2 L527.8,2353.5 L572.5,2346.9 L618.0,2340.8 L670.1,2339.4 L714.7,2339.4 L759.4,2340.9 L804.8,2348.3 L856.8,2355.7 L901.7,2358.7 L946.7,2362.2 L996.6,2367.0 L1042.1,2372.9" fill="none" stroke="#0000ff" stroke-width="6.6" stroke-linejoin="round"/>
<g fill="#0000ff"><rect x="239.5" y="2346.5" width="8.8" height="49.4" rx="3.4"/><rect x="219.2" y="2366.8" width="49.4" height="8.8" rx="3.4"/><rect x="284.3" y="2346.5" width="8.8" height="49.4" rx="3.4"/><rect x="264.0" y="2366.8" width="49.4" height="8.8" rx="3.4"/><rect x="336.6" y="2342.5" width="8.8" height="49.4" rx="3.4"/><rect x="316.3" y="2362.8" width="49.4" height="8.8" rx="3.4"/><rect x="381.4" y="2337.2" width="8.8" height="49.4" rx="3.4"/><rect x="361.1" y="2357.5" width="49.4" height="8.8" rx="3.4"/><rect x="426.7" y="2335.4" width="8.8" height="49.4" rx="3.4"/><rect x="406.4" y="2355.7" width="49.4" height="8.8" rx="3.4"/><rect x="471.2" y="2333.5" width="8.8" height="49.4" rx="3.4"/><rect x="450.9" y="2353.8" width="49.4" height="8.8" rx="3.4"/><rect x="523.4" y="2328.8" width="8.8" height="49.4" rx="3.4"/><rect x="503.1" y="2349.1" width="49.4" height="8.8" rx="3.4"/><rect x="568.1" y="2322.2" width="8.8" height="49.4" rx="3.4"/><rect x="547.8" y="2342.5" width="49.4" height="8.8" rx="3.4"/><rect x="613.6" y="2316.1" width="8.8" height="49.4" rx="3.4"/><rect x="593.3" y="2336.4" width="49.4" height="8.8" rx="3.4"/><rect x="665.7" y="2314.7" width="8.8" height="49.4" rx="3.4"/><rect x="645.4" y="2335.0" width="49.4" height="8.8" rx="3.4"/><rect x="710.3" y="2314.7" width="8.8" height="49.4" rx="3.4"/><rect x="690.0" y="2335.0" width="49.4" height="8.8" rx="3.4"/><rect x="755.0" y="2316.2" width="8.8" height="49.4" rx="3.4"/><rect x="734.7" y="2336.5" width="49.4" height="8.8" rx="3.4"/><rect x="800.4" y="2323.6" width="8.8" height="49.4" rx="3.4"/><rect x="780.1" y="2343.9" width="49.4" height="8.8" rx="3.4"/><rect x="852.4" y="2331.0" width="8.8" height="49.4" rx="3.4"/><rect x="832.1" y="2351.3" width="49.4" height="8.8" rx="3.4"/><rect x="897.3" y="2334.0" width="8.8" height="49.4" rx="3.4"/><rect x="877.0" y="2354.3" width="49.4" height="8.8" rx="3.4"/><rect x="942.3" y="2337.5" width="8.8" height="49.4" rx="3.4"/><rect x="922.0" y="2357.8" width="49.4" height="8.8" rx="3.4"/><rect x="992.2" y="2342.3" width="8.8" height="49.4" rx="3.4"/><rect x="971.9" y="2362.6" width="49.4" height="8.8" rx="3.4"/><rect x="1037.7" y="2348.2" width="8.8" height="49.4" rx="3.4"/><rect x="1017.4" y="2368.5" width="49.4" height="8.8" rx="3.4"/></g>
<rect x="233.9" y="2361.2" width="20" height="20" fill="#fff" stroke="#0000ff" stroke-width="6"/>
<rect x="278.7" y="2361.2" width="20" height="20" fill="#fff" stroke="#0000ff" stroke-width="6"/>
<rect x="331.0" y="2357.2" width="20" height="20" fill="#fff" stroke="#0000ff" stroke-width="6"/>
<rect x="375.8" y="2351.9" width="20" height="20" fill="#fff" stroke="#0000ff" stroke-width="6"/>
<rect x="421.1" y="2350.1" width="20" height="20" fill="#fff" stroke="#0000ff" stroke-width="6"/>
<rect x="465.6" y="2348.2" width="20" height="20" fill="#fff" stroke="#0000ff" stroke-width="6"/>
<rect x="517.8" y="2343.5" width="20" height="20" fill="#fff" stroke="#0000ff" stroke-width="6"/>
<rect x="562.5" y="2336.9" width="20" height="20" fill="#fff" stroke="#0000ff" stroke-width="6"/>
<rect x="608.0" y="2330.8" width="20" height="20" fill="#fff" stroke="#0000ff" stroke-width="6"/>
<rect x="660.1" y="2329.4" width="20" height="20" fill="#fff" stroke="#0000ff" stroke-width="6"/>
<rect x="704.7" y="2329.4" width="20" height="20" fill="#fff" stroke="#0000ff" stroke-width="6"/>
<rect x="749.4" y="2330.9" width="20" height="20" fill="#fff" stroke="#0000ff" stroke-width="6"/>
<rect x="794.8" y="2338.3" width="20" height="20" fill="#fff" stroke="#0000ff" stroke-width="6"/>
<rect x="846.8" y="2345.7" width="20" height="20" fill="#fff" stroke="#0000ff" stroke-width="6"/>
<rect x="891.7" y="2348.7" width="20" height="20" fill="#fff" stroke="#0000ff" stroke-width="6"/>
<rect x="936.7" y="2352.2" width="20" height="20" fill="#fff" stroke="#0000ff" stroke-width="6"/>
<rect x="986.6" y="2357.0" width="20" height="20" fill="#fff" stroke="#0000ff" stroke-width="6"/>
<rect x="1032.1" y="2362.9" width="20" height="20" fill="#fff" stroke="#0000ff" stroke-width="6"/>
</g>
<rect x="1056" y="2146" width="4" height="850" fill="#ff0000"/>
<line x1="1060" y1="2994.5" x2="1071" y2="2994.5" stroke="#ff0000" stroke-width="4" stroke-linecap="round"/>
<line x1="1060" y1="2825.2" x2="1071" y2="2825.2" stroke="#ff0000" stroke-width="4" stroke-linecap="round"/>
<line x1="1060" y1="2655.9" x2="1071" y2="2655.9" stroke="#ff0000" stroke-width="4" stroke-linecap="round"/>
<line x1="1060" y1="2486.6" x2="1071" y2="2486.6" stroke="#ff0000" stroke-width="4" stroke-linecap="round"/>
<line x1="1060" y1="2317.3" x2="1071" y2="2317.3" stroke="#ff0000" stroke-width="4" stroke-linecap="round"/>
<line x1="1060" y1="2148.0" x2="1071" y2="2148.0" stroke="#ff0000" stroke-width="4" stroke-linecap="round"/>
<line x1="1060" y1="2909.85" x2="1065" y2="2909.85" stroke="#ff0000" stroke-width="4" stroke-linecap="round"/>
<line x1="1060" y1="2740.55" x2="1065" y2="2740.55" stroke="#ff0000" stroke-width="4" stroke-linecap="round"/>
<line x1="1060" y1="2571.25" x2="1065" y2="2571.25" stroke="#ff0000" stroke-width="4" stroke-linecap="round"/>
<line x1="1060" y1="2401.95" x2="1065" y2="2401.95" stroke="#ff0000" stroke-width="4" stroke-linecap="round"/>
<line x1="1060" y1="2232.65" x2="1065" y2="2232.65" stroke="#ff0000" stroke-width="4" stroke-linecap="round"/>
<clipPath id="c6"><rect x="210" y="2146" width="850" height="850"/></clipPath><g clip-path="url(#c6)">
<path d="M243.9,2449.4 L288.7,2451.8 L341.0,2451.3 L385.8,2451.3 L431.1,2451.3 L475.6,2451.8 L527.8,2450.7 L572.5,2447.8 L618.0,2444.6 L670.1,2446.2 L714.7,2449.7 L759.4,2453.8 L804.8,2463.7 L856.8,2473.0 L901.7,2479.4 L946.7,2484.0 L996.6,2491.0 L1042.1,2497.7" fill="none" stroke="#ff0000" stroke-width="6.5" stroke-linejoin="round"/>
<g fill="#ff0000"><rect x="239.9" y="2424.9" width="8" height="49.0" rx="3.4"/><rect x="219.4" y="2445.4" width="49.0" height="8" rx="3.4"/><rect x="284.7" y="2427.3" width="8" height="49.0" rx="3.4"/><rect x="264.2" y="2447.8" width="49.0" height="8" rx="3.4"/><rect x="337.0" y="2426.8" width="8" height="49.0" rx="3.4"/><rect x="316.5" y="2447.3" width="49.0" height="8" rx="3.4"/><rect x="381.8" y="2426.8" width="8" height="49.0" rx="3.4"/><rect x="361.3" y="2447.3" width="49.0" height="8" rx="3.4"/><rect x="427.1" y="2426.8" width="8" height="49.0" rx="3.4"/><rect x="406.6" y="2447.3" width="49.0" height="8" rx="3.4"/><rect x="471.6" y="2427.3" width="8" height="49.0" rx="3.4"/><rect x="451.1" y="2447.8" width="49.0" height="8" rx="3.4"/><rect x="523.8" y="2426.2" width="8" height="49.0" rx="3.4"/><rect x="503.3" y="2446.7" width="49.0" height="8" rx="3.4"/><rect x="568.5" y="2423.3" width="8" height="49.0" rx="3.4"/><rect x="548.0" y="2443.8" width="49.0" height="8" rx="3.4"/><rect x="614.0" y="2420.1" width="8" height="49.0" rx="3.4"/><rect x="593.5" y="2440.6" width="49.0" height="8" rx="3.4"/><rect x="666.1" y="2421.7" width="8" height="49.0" rx="3.4"/><rect x="645.6" y="2442.2" width="49.0" height="8" rx="3.4"/><rect x="710.7" y="2425.2" width="8" height="49.0" rx="3.4"/><rect x="690.2" y="2445.7" width="49.0" height="8" rx="3.4"/><rect x="755.4" y="2429.3" width="8" height="49.0" rx="3.4"/><rect x="734.9" y="2449.8" width="49.0" height="8" rx="3.4"/><rect x="800.8" y="2439.2" width="8" height="49.0" rx="3.4"/><rect x="780.3" y="2459.7" width="49.0" height="8" rx="3.4"/><rect x="852.8" y="2448.5" width="8" height="49.0" rx="3.4"/><rect x="832.3" y="2469.0" width="49.0" height="8" rx="3.4"/><rect x="897.7" y="2454.9" width="8" height="49.0" rx="3.4"/><rect x="877.2" y="2475.4" width="49.0" height="8" rx="3.4"/><rect x="942.7" y="2459.5" width="8" height="49.0" rx="3.4"/><rect x="922.2" y="2480.0" width="49.0" height="8" rx="3.4"/><rect x="992.6" y="2466.5" width="8" height="49.0" rx="3.4"/><rect x="972.1" y="2487.0" width="49.0" height="8" rx="3.4"/><rect x="1038.1" y="2473.2" width="8" height="49.0" rx="3.4"/><rect x="1017.6" y="2493.7" width="49.0" height="8" rx="3.4"/></g>
<circle cx="243.9" cy="2449.4" r="10.8" fill="#fff" stroke="#ff0000" stroke-width="4.8"/>
<circle cx="288.7" cy="2451.8" r="10.8" fill="#fff" stroke="#ff0000" stroke-width="4.8"/>
<circle cx="341.0" cy="2451.3" r="10.8" fill="#fff" stroke="#ff0000" stroke-width="4.8"/>
<circle cx="385.8" cy="2451.3" r="10.8" fill="#fff" stroke="#ff0000" stroke-width="4.8"/>
<circle cx="431.1" cy="2451.3" r="10.8" fill="#fff" stroke="#ff0000" stroke-width="4.8"/>
<circle cx="475.6" cy="2451.8" r="10.8" fill="#fff" stroke="#ff0000" stroke-width="4.8"/>
<circle cx="527.8" cy="2450.7" r="10.8" fill="#fff" stroke="#ff0000" stroke-width="4.8"/>
<circle cx="572.5" cy="2447.8" r="10.8" fill="#fff" stroke="#ff0000" stroke-width="4.8"/>
<circle cx="618.0" cy="2444.6" r="10.8" fill="#fff" stroke="#ff0000" stroke-width="4.8"/>
<circle cx="670.1" cy="2446.2" r="10.8" fill="#fff" stroke="#ff0000" stroke-width="4.8"/>
<circle cx="714.7" cy="2449.7" r="10.8" fill="#fff" stroke="#ff0000" stroke-width="4.8"/>
<circle cx="759.4" cy="2453.8" r="10.8" fill="#fff" stroke="#ff0000" stroke-width="4.8"/>
<circle cx="804.8" cy="2463.7" r="10.8" fill="#fff" stroke="#ff0000" stroke-width="4.8"/>
<circle cx="856.8" cy="2473.0" r="10.8" fill="#fff" stroke="#ff0000" stroke-width="4.8"/>
<circle cx="901.7" cy="2479.4" r="10.8" fill="#fff" stroke="#ff0000" stroke-width="4.8"/>
<circle cx="946.7" cy="2484.0" r="10.8" fill="#fff" stroke="#ff0000" stroke-width="4.8"/>
<circle cx="996.6" cy="2491.0" r="10.8" fill="#fff" stroke="#ff0000" stroke-width="4.8"/>
<circle cx="1042.1" cy="2497.7" r="10.8" fill="#fff" stroke="#ff0000" stroke-width="4.8"/>
</g>
<text x="191.5" y="3008.2" font-size="52.5" text-anchor="end" fill="#000">0.0</text>
<text x="191.5" y="2838.9" font-size="52.5" text-anchor="end" fill="#000">0.3</text>
<text x="191.5" y="2669.6" font-size="52.5" text-anchor="end" fill="#000">0.6</text>
<text x="191.5" y="2500.3" font-size="52.5" text-anchor="end" fill="#000">0.9</text>
<text x="191.5" y="2331.0" font-size="52.5" text-anchor="end" fill="#000">1.2</text>
<text x="191.5" y="2161.7" font-size="52.5" text-anchor="end" fill="#000">1.5</text>
<text x="1079.0" y="3008.2" font-size="52.5" text-anchor="start" fill="#ff0000">0.0</text>
<text x="1079.0" y="2838.9" font-size="52.5" text-anchor="start" fill="#ff0000">0.3</text>
<text x="1079.0" y="2669.6" font-size="52.5" text-anchor="start" fill="#ff0000">0.6</text>
<text x="1079.0" y="2500.3" font-size="52.5" text-anchor="start" fill="#ff0000">0.9</text>
<text x="1079.0" y="2331.0" font-size="52.5" text-anchor="start" fill="#ff0000">1.2</text>
<text x="1079.0" y="2161.7" font-size="52.5" text-anchor="start" fill="#ff0000">1.5</text>
<rect x="1431" y="2146" width="850" height="4" fill="#000"/>
<rect x="1431" y="2993" width="850" height="3" fill="#000"/>
<rect x="1431" y="2146" width="4" height="850" fill="#000"/>
<rect x="2277" y="2146" width="4" height="850" fill="#000"/>
<line x1="1431" y1="2994.5" x2="1420" y2="2994.5" stroke="#000" stroke-width="4" stroke-linecap="round"/>
<line x1="1431" y1="2825.2" x2="1420" y2="2825.2" stroke="#000" stroke-width="4" stroke-linecap="round"/>
<line x1="1431" y1="2655.9" x2="1420" y2="2655.9" stroke="#000" stroke-width="4" stroke-linecap="round"/>
<line x1="1431" y1="2486.6" x2="1420" y2="2486.6" stroke="#000" stroke-width="4" stroke-linecap="round"/>
<line x1="1431" y1="2317.3" x2="1420" y2="2317.3" stroke="#000" stroke-width="4" stroke-linecap="round"/>
<line x1="1431" y1="2148.0" x2="1420" y2="2148.0" stroke="#000" stroke-width="4" stroke-linecap="round"/>
<line x1="1431" y1="2909.85" x2="1426" y2="2909.85" stroke="#000" stroke-width="4" stroke-linecap="round"/>
<line x1="1431" y1="2740.55" x2="1426" y2="2740.55" stroke="#000" stroke-width="4" stroke-linecap="round"/>
<line x1="1431" y1="2571.25" x2="1426" y2="2571.25" stroke="#000" stroke-width="4" stroke-linecap="round"/>
<line x1="1431" y1="2401.95" x2="1426" y2="2401.95" stroke="#000" stroke-width="4" stroke-linecap="round"/>
<line x1="1431" y1="2232.65" x2="1426" y2="2232.65" stroke="#000" stroke-width="4" stroke-linecap="round"/>
<line x1="1433.0" y1="2996" x2="1433.0" y2="3006" stroke="#000" stroke-width="4" stroke-linecap="round"/>
<text x="1433.0" y="3055.5" font-size="52.5" text-anchor="middle">300</text>
<line x1="1503.5" y1="2996" x2="1503.5" y2="3000.5" stroke="#000" stroke-width="4" stroke-linecap="round"/>
<line x1="1574.0" y1="2996" x2="1574.0" y2="3006" stroke="#000" stroke-width="4" stroke-linecap="round"/>
<text x="1574.0" y="3055.5" font-size="52.5" text-anchor="middle">360</text>
<line x1="1644.5" y1="2996" x2="1644.5" y2="3000.5" stroke="#000" stroke-width="4" stroke-linecap="round"/>
<line x1="1715.0" y1="2996" x2="1715.0" y2="3006" stroke="#000" stroke-width="4" stroke-linecap="round"/>
<text x="1715.0" y="3055.5" font-size="52.5" text-anchor="middle">420</text>
<line x1="1785.5" y1="2996" x2="1785.5" y2="3000.5" stroke="#000" stroke-width="4" stroke-linecap="round"/>
<line x1="1856.0" y1="2996" x2="1856.0" y2="3006" stroke="#000" stroke-width="4" stroke-linecap="round"/>
<text x="1856.0" y="3055.5" font-size="52.5" text-anchor="middle">480</text>
<line x1="1926.5" y1="2996" x2="1926.5" y2="3000.5" stroke="#000" stroke-width="4" stroke-linecap="round"/>
<line x1="1997.0" y1="2996" x2="1997.0" y2="3006" stroke="#000" stroke-width="4" stroke-linecap="round"/>
<text x="1997.0" y="3055.5" font-size="52.5" text-anchor="middle">540</text>
<line x1="2067.5" y1="2996" x2="2067.5" y2="3000.5" stroke="#000" stroke-width="4" stroke-linecap="round"/>
<line x1="2138.0" y1="2996" x2="2138.0" y2="3006" stroke="#000" stroke-width="4" stroke-linecap="round"/>
<text x="2138.0" y="3055.5" font-size="52.5" text-anchor="middle">600</text>
<line x1="2208.5" y1="2996" x2="2208.5" y2="3000.5" stroke="#000" stroke-width="4" stroke-linecap="round"/>
<line x1="2279.0" y1="2996" x2="2279.0" y2="3006" stroke="#000" stroke-width="4" stroke-linecap="round"/>
<text x="2279.0" y="3055.5" font-size="52.5" text-anchor="middle">660</text>
<clipPath id="c7"><rect x="1431" y="2146" width="850" height="850"/></clipPath><g clip-path="url(#c7)">
<path d="M1464.9,2867.4 L1509.7,2845.1 L1562.0,2815.5 L1606.8,2788.2 L1652.1,2760.2 L1696.6,2734.4 L1748.8,2710.5 L1793.5,2691.7 L1839.0,2674.0 L1891.1,2645.5 L1935.7,2619.7 L1980.4,2567.6 L2025.8,2513.9 L2077.8,2459.6 L2122.7,2426.2 L2167.7,2383.8 L2217.6,2303.7 L2263.1,2247.4" fill="none" stroke="#0000ff" stroke-width="6.6" stroke-linejoin="round"/>
<g fill="#0000ff"><rect x="1460.5" y="2842.7" width="8.8" height="49.4" rx="3.4"/><rect x="1440.2" y="2863.0" width="49.4" height="8.8" rx="3.4"/><rect x="1505.3" y="2820.4" width="8.8" height="49.4" rx="3.4"/><rect x="1485.0" y="2840.7" width="49.4" height="8.8" rx="3.4"/><rect x="1557.6" y="2790.8" width="8.8" height="49.4" rx="3.4"/><rect x="1537.3" y="2811.1" width="49.4" height="8.8" rx="3.4"/><rect x="1602.4" y="2763.5" width="8.8" height="49.4" rx="3.4"/><rect x="1582.1" y="2783.8" width="49.4" height="8.8" rx="3.4"/><rect x="1647.7" y="2735.5" width="8.8" height="49.4" rx="3.4"/><rect x="1627.4" y="2755.8" width="49.4" height="8.8" rx="3.4"/><rect x="1692.2" y="2709.7" width="8.8" height="49.4" rx="3.4"/><rect x="1671.9" y="2730.0" width="49.4" height="8.8" rx="3.4"/><rect x="1744.4" y="2685.8" width="8.8" height="49.4" rx="3.4"/><rect x="1724.1" y="2706.1" width="49.4" height="8.8" rx="3.4"/><rect x="1789.1" y="2667.0" width="8.8" height="49.4" rx="3.4"/><rect x="1768.8" y="2687.3" width="49.4" height="8.8" rx="3.4"/><rect x="1834.6" y="2649.3" width="8.8" height="49.4" rx="3.4"/><rect x="1814.3" y="2669.6" width="49.4" height="8.8" rx="3.4"/><rect x="1886.7" y="2620.8" width="8.8" height="49.4" rx="3.4"/><rect x="1866.4" y="2641.1" width="49.4" height="8.8" rx="3.4"/><rect x="1931.3" y="2595.0" width="8.8" height="49.4" rx="3.4"/><rect x="1911.0" y="2615.3" width="49.4" height="8.8" rx="3.4"/><rect x="1976.0" y="2542.9" width="8.8" height="49.4" rx="3.4"/><rect x="1955.7" y="2563.2" width="49.4" height="8.8" rx="3.4"/><rect x="2021.4" y="2489.2" width="8.8" height="49.4" rx="3.4"/><rect x="2001.1" y="2509.5" width="49.4" height="8.8" rx="3.4"/><rect x="2073.4" y="2434.9" width="8.8" height="49.4" rx="3.4"/><rect x="2053.1" y="2455.2" width="49.4" height="8.8" rx="3.4"/><rect x="2118.3" y="2401.5" width="8.8" height="49.4" rx="3.4"/><rect x="2098.0" y="2421.8" width="49.4" height="8.8" rx="3.4"/><rect x="2163.3" y="2359.1" width="8.8" height="49.4" rx="3.4"/><rect x="2143.0" y="2379.4" width="49.4" height="8.8" rx="3.4"/><rect x="2213.2" y="2279.0" width="8.8" height="49.4" rx="3.4"/><rect x="2192.9" y="2299.3" width="49.4" height="8.8" rx="3.4"/><rect x="2258.7" y="2222.7" width="8.8" height="49.4" rx="3.4"/><rect x="2238.4" y="2243.0" width="49.4" height="8.8" rx="3.4"/></g>
<rect x="1454.9" y="2857.4" width="20" height="20" fill="#fff" stroke="#0000ff" stroke-width="6"/>
<rect x="1499.7" y="2835.1" width="20" height="20" fill="#fff" stroke="#0000ff" stroke-width="6"/>
<rect x="1552.0" y="2805.5" width="20" height="20" fill="#fff" stroke="#0000ff" stroke-width="6"/>
<rect x="1596.8" y="2778.2" width="20" height="20" fill="#fff" stroke="#0000ff" stroke-width="6"/>
<rect x="1642.1" y="2750.2" width="20" height="20" fill="#fff" stroke="#0000ff" stroke-width="6"/>
<rect x="1686.6" y="2724.4" width="20" height="20" fill="#fff" stroke="#0000ff" stroke-width="6"/>
<rect x="1738.8" y="2700.5" width="20" height="20" fill="#fff" stroke="#0000ff" stroke-width="6"/>
<rect x="1783.5" y="2681.7" width="20" height="20" fill="#fff" stroke="#0000ff" stroke-width="6"/>
<rect x="1829.0" y="2664.0" width="20" height="20" fill="#fff" stroke="#0000ff" stroke-width="6"/>
<rect x="1881.1" y="2635.5" width="20" height="20" fill="#fff" stroke="#0000ff" stroke-width="6"/>
<rect x="1925.7" y="2609.7" width="20" height="20" fill="#fff" stroke="#0000ff" stroke-width="6"/>
<rect x="1970.4" y="2557.6" width="20" height="20" fill="#fff" stroke="#0000ff" stroke-width="6"/>
<rect x="2015.8" y="2503.9" width="20" height="20" fill="#fff" stroke="#0000ff" stroke-width="6"/>
<rect x="2067.8" y="2449.6" width="20" height="20" fill="#fff" stroke="#0000ff" stroke-width="6"/>
<rect x="2112.7" y="2416.2" width="20" height="20" fill="#fff" stroke="#0000ff" stroke-width="6"/>
<rect x="2157.7" y="2373.8" width="20" height="20" fill="#fff" stroke="#0000ff" stroke-width="6"/>
<rect x="2207.6" y="2293.7" width="20" height="20" fill="#fff" stroke="#0000ff" stroke-width="6"/>
<rect x="2253.1" y="2237.4" width="20" height="20" fill="#fff" stroke="#0000ff" stroke-width="6"/>
</g>
<text x="1412.5" y="3008.2" font-size="52.5" text-anchor="end" fill="#000">0.00</text>
<text x="1412.5" y="2838.9" font-size="52.5" text-anchor="end" fill="#000">0.05</text>
<text x="1412.5" y="2669.6" font-size="52.5" text-anchor="end" fill="#000">0.10</text>
<text x="1412.5" y="2500.3" font-size="52.5" text-anchor="end" fill="#000">0.15</text>
<text x="1412.5" y="2331.0" font-size="52.5" text-anchor="end" fill="#000">0.20</text>
<text x="1412.5" y="2161.7" font-size="52.5" text-anchor="end" fill="#000">0.25</text>
<text transform="translate(415.6 1021.7) scale(1 1.036)" x="0" y="0" font-size="63">Temperature (K)</text>
<text transform="translate(1621.7 1028.0) scale(1 1.036)" x="0" y="0" font-size="63">Temperature (K)</text>
<text transform="translate(411.1 2068.0) scale(1 1.036)" x="0" y="0" font-size="63">Temperature (K)</text>
<text transform="translate(1617.2 2060.4) scale(1 1.036)" x="0" y="0" font-size="63">Temperature (K)</text>
<text transform="translate(409.6 3123.2) scale(1 1.036)" x="0" y="0" font-size="63">Temperature (K)</text>
<text transform="translate(1620.2 3123.2) scale(1 1.036)" x="0" y="0" font-size="63">Temperature (K)</text>
<text x="255.8" y="162.0" font-size="95" font-family='Carlito, Calibri, "Liberation Sans", sans-serif'>a<tspan dy="3.5" dx="1.5">)</tspan></text>
<text x="1465.9" y="160.0" font-size="95" font-family='Carlito, Calibri, "Liberation Sans", sans-serif'>b<tspan dy="3.5" dx="1.5">)</tspan></text>
<text x="256.9" y="1201.0" font-size="95" font-family='Carlito, Calibri, "Liberation Sans", sans-serif'>c<tspan dy="3.5" dx="1.5">)</tspan></text>
<text x="1470.0" y="1201.0" font-size="95" font-family='Carlito, Calibri, "Liberation Sans", sans-serif'>d<tspan dy="3.5" dx="1.5">)</tspan></text>
<text x="246.9" y="2249.0" font-size="95" font-family='Carlito, Calibri, "Liberation Sans", sans-serif'>e<tspan dy="3.5" dx="1.5">)</tspan></text>
<text x="1466.5" y="2265.8" font-size="95" font-family='Carlito, Calibri, "Liberation Sans", sans-serif'>f<tspan dy="3.5" dx="1.5">)</tspan></text>
<text transform="translate(111 588.3) rotate(-90) scale(1 1.036)" x="0" y="0" font-size="63" fill="#000"><tspan font-size="63">σ</tspan><tspan font-size="63" dx="-5.0"> (</tspan><tspan font-size="63" dx="-0.9">S</tspan><tspan font-size="63" dx="0.3"> m</tspan><tspan font-size="37" dy="-33" dx="-0.6">-</tspan><tspan font-size="37" dx="2.3">1</tspan><tspan font-size="63" dy="33" dx="0.3">)</tspan></text>
<text transform="translate(1307 584.5) rotate(-90) scale(1 1.036)" x="0" y="0" font-size="63" fill="#000"><tspan font-size="63">S</tspan><tspan font-size="63" dx="-0.1"> (</tspan><tspan font-size="63" font-family="Liberation Serif" dx="-2.7">μ</tspan><tspan font-size="63" dx="3.0">V</tspan><tspan font-size="63" dx="-0.7"> K</tspan><tspan font-size="37" dy="-33" dx="-0.4">-</tspan><tspan font-size="37" dx="3.0">1</tspan><tspan font-size="63" dy="33" dx="0.3">)</tspan></text>
<text transform="translate(104.9 1730.9) rotate(-90) scale(1 1.036)" x="0" y="0" font-size="63" fill="#000"><tspan font-size="63">P</tspan><tspan font-size="63" dx="-3.0">F</tspan><tspan font-size="63" dx="-8.0"> (</tspan><tspan font-size="63" dx="3.6">m</tspan><tspan font-size="63" dx="0.9">W</tspan><tspan font-size="63" dx="-0.1"> m</tspan><tspan font-size="37" dy="-33" dx="1.8">-</tspan><tspan font-size="37" dx="0.4">1</tspan><tspan font-size="63" dy="33" dx="-0.7"> K</tspan><tspan font-size="37" dy="-33" dx="4.2">-</tspan><tspan font-size="37" dx="-1.5">2</tspan><tspan font-size="63" dy="33" dx="-0.8">)</tspan></text>
<text transform="translate(1312.9 1678.8) rotate(-90) scale(1 1.036)" x="0" y="0" font-size="63" fill="#000"><tspan font-size="63" font-family="Liberation Serif">λ</tspan><tspan font-size="63" dx="1.0"> (</tspan><tspan font-size="63" dx="0.5">m</tspan><tspan font-size="63" dx="0.1">m</tspan><tspan font-size="37" dy="-33" dx="-1.3">2</tspan><tspan font-size="63" dy="33" dx="1.3">s</tspan><tspan font-size="37" dy="-33" dx="-1.6">-</tspan><tspan font-size="37" dx="3.3">1</tspan><tspan font-size="63" dy="33">)</tspan></text>
<text transform="translate(93 2788.8) rotate(-90) scale(1 1.036)" x="0" y="0" font-size="63" fill="#000"><tspan font-size="63">K</tspan><tspan font-size="37" dy="25" dx="-2.9">total</tspan><tspan font-size="63" dy="-25" dx="2.8"> (</tspan><tspan font-size="63" dx="-0.9">W</tspan><tspan font-size="63" dx="0.3"> m</tspan><tspan font-size="37" dy="-33" dx="0.2">-</tspan><tspan font-size="37" dx="1.1">1</tspan><tspan font-size="63" dy="33" dx="0.9"> K</tspan><tspan font-size="37" dy="-33" dx="-0.7">-</tspan><tspan font-size="37" dx="0.8">1</tspan><tspan font-size="63" dy="33" dx="1.3">)</tspan></text>
<text transform="translate(1295 2610.1) rotate(-90) scale(1 1.036)" x="0" y="0" font-size="63" fill="#000"><tspan font-size="63">ZT</tspan></text>
<text transform="translate(1164.8 2335.6) rotate(90) scale(1 1.036)" x="0" y="0" font-size="69" fill="#ff0000"><tspan font-size="69">K</tspan><tspan font-size="45" dy="18" dx="-6.7">L</tspan><tspan font-size="69" dy="-18" dx="-9.4"> (</tspan><tspan font-size="69" dx="0.8">W</tspan><tspan font-size="69" dx="4.1"> m</tspan><tspan font-size="46" dy="-23" dx="6.1">-</tspan><tspan font-size="46" dx="-1.4">1</tspan><tspan font-size="69" dy="23" dx="0.6"> K</tspan><tspan font-size="46" dy="-23" dx="-4.9">-</tspan><tspan font-size="46" dx="-0.4">1</tspan><tspan font-size="69" dy="23" dx="3.1">)</tspan></text>
<ellipse cx="622.3" cy="2327.2" rx="27" ry="66" fill="none" stroke="#0a00c0" stroke-width="6.5"/>
<path d="M589,2296 H513.9 V2286.9 L486.7,2300.8 L513.9,2315.1 V2306 H589 Z" fill="#1e00ff"/>
<ellipse cx="749" cy="2447.4" rx="26" ry="66.4" fill="none" stroke="#ff0000" stroke-width="6"/>
<path d="M786.9,2421.1 H862.2 V2412.1 L888.9,2425.8 L862.2,2439.9 V2430.8 H786.9 Z" fill="#ff0000"/>
<rect x="454.0" y="2563.6" width="473.9" height="340.3000000000002" fill="none"/>
<path d="M481.1,2814.4 L505.2,2802.0 L533.2,2786.4 L557.2,2773.9 L581.6,2761.8 L605.4,2749.7 L633.4,2736.2 L657.4,2724.1 L681.9,2712.7 L709.8,2700.3 L733.7,2690.1 L757.7,2678.3 L782.0,2666.9 L809.9,2656.2 L834.0,2649.5 L858.2,2642.7 L884.9,2633.5 L909.4,2629.9" fill="none" stroke="#008000" stroke-width="4"/>
<path d="M481.1,2803.9V2824.9M470.6,2814.4H491.6M505.2,2791.5V2812.5M494.7,2802.0H515.7M533.2,2775.9V2796.9M522.7,2786.4H543.7M557.2,2763.4V2784.4M546.7,2773.9H567.7M581.6,2751.3V2772.3M571.1,2761.8H592.1M605.4,2739.2V2760.2M594.9,2749.7H615.9M633.4,2725.7V2746.7M622.9,2736.2H643.9M657.4,2713.6V2734.6M646.9,2724.1H667.9M681.9,2702.2V2723.2M671.4,2712.7H692.4M709.8,2689.8V2710.8M699.3,2700.3H720.3M733.7,2679.6V2700.6M723.2,2690.1H744.2M757.7,2667.8V2688.8M747.2,2678.3H768.2M782.0,2656.4V2677.4M771.5,2666.9H792.5M809.9,2645.7V2666.7M799.4,2656.2H820.4M834.0,2639.0V2660.0M823.5,2649.5H844.5M858.2,2632.2V2653.2M847.7,2642.7H868.7M884.9,2623.0V2644.0M874.4,2633.5H895.4M909.4,2619.4V2640.4M898.9,2629.9H919.9" fill="none" stroke="#008000" stroke-width="5" stroke-linecap="round"/>
<path d="M481.1,2806.4 L489.1,2814.4 L481.1,2822.4 L473.1,2814.4 Z" fill="#fff" stroke="#008000" stroke-width="4.2"/>
<path d="M505.2,2794.0 L513.2,2802.0 L505.2,2810.0 L497.2,2802.0 Z" fill="#fff" stroke="#008000" stroke-width="4.2"/>
<path d="M533.2,2778.4 L541.2,2786.4 L533.2,2794.4 L525.2,2786.4 Z" fill="#fff" stroke="#008000" stroke-width="4.2"/>
<path d="M557.2,2765.9 L565.2,2773.9 L557.2,2781.9 L549.2,2773.9 Z" fill="#fff" stroke="#008000" stroke-width="4.2"/>
<path d="M581.6,2753.8 L589.6,2761.8 L581.6,2769.8 L573.6,2761.8 Z" fill="#fff" stroke="#008000" stroke-width="4.2"/>
<path d="M605.4,2741.7 L613.4,2749.7 L605.4,2757.7 L597.4,2749.7 Z" fill="#fff" stroke="#008000" stroke-width="4.2"/>
<path d="M633.4,2728.2 L641.4,2736.2 L633.4,2744.2 L625.4,2736.2 Z" fill="#fff" stroke="#008000" stroke-width="4.2"/>
<path d="M657.4,2716.1 L665.4,2724.1 L657.4,2732.1 L649.4,2724.1 Z" fill="#fff" stroke="#008000" stroke-width="4.2"/>
<path d="M681.9,2704.7 L689.9,2712.7 L681.9,2720.7 L673.9,2712.7 Z" fill="#fff" stroke="#008000" stroke-width="4.2"/>
<path d="M709.8,2692.3 L717.8,2700.3 L709.8,2708.3 L701.8,2700.3 Z" fill="#fff" stroke="#008000" stroke-width="4.2"/>
<path d="M733.7,2682.1 L741.7,2690.1 L733.7,2698.1 L725.7,2690.1 Z" fill="#fff" stroke="#008000" stroke-width="4.2"/>
<path d="M757.7,2670.3 L765.7,2678.3 L757.7,2686.3 L749.7,2678.3 Z" fill="#fff" stroke="#008000" stroke-width="4.2"/>
<path d="M782.0,2658.9 L790.0,2666.9 L782.0,2674.9 L774.0,2666.9 Z" fill="#fff" stroke="#008000" stroke-width="4.2"/>
<path d="M809.9,2648.2 L817.9,2656.2 L809.9,2664.2 L801.9,2656.2 Z" fill="#fff" stroke="#008000" stroke-width="4.2"/>
<path d="M834.0,2641.5 L842.0,2649.5 L834.0,2657.5 L826.0,2649.5 Z" fill="#fff" stroke="#008000" stroke-width="4.2"/>
<path d="M858.2,2634.7 L866.2,2642.7 L858.2,2650.7 L850.2,2642.7 Z" fill="#fff" stroke="#008000" stroke-width="4.2"/>
<path d="M884.9,2625.5 L892.9,2633.5 L884.9,2641.5 L876.9,2633.5 Z" fill="#fff" stroke="#008000" stroke-width="4.2"/>
<path d="M909.4,2621.9 L917.4,2629.9 L909.4,2637.9 L901.4,2629.9 Z" fill="#fff" stroke="#008000" stroke-width="4.2"/>
<rect x="464.0" y="2566.6" width="453.9" height="334.3000000000002" fill="none" stroke="#000" stroke-width="2.3"/>
<line x1="464.0" y1="2900.9" x2="456.5" y2="2900.9" stroke="#000" stroke-width="2.3"/>
<text x="453.0" y="2911.1" font-size="34" text-anchor="end">0.10</text>
<line x1="464.0" y1="2789.5" x2="456.5" y2="2789.5" stroke="#000" stroke-width="2.3"/>
<text x="453.0" y="2799.7" font-size="34" text-anchor="end">0.15</text>
<line x1="464.0" y1="2678.0" x2="456.5" y2="2678.0" stroke="#000" stroke-width="2.3"/>
<text x="453.0" y="2688.2" font-size="34" text-anchor="end">0.20</text>
<line x1="464.0" y1="2566.6" x2="456.5" y2="2566.6" stroke="#000" stroke-width="2.3"/>
<text x="453.0" y="2576.8" font-size="34" text-anchor="end">0.25</text>
<line x1="464.0" y1="2845.2" x2="460.0" y2="2845.2" stroke="#000" stroke-width="2.3"/>
<line x1="464.0" y1="2733.8" x2="460.0" y2="2733.8" stroke="#000" stroke-width="2.3"/>
<line x1="464.0" y1="2622.3" x2="460.0" y2="2622.3" stroke="#000" stroke-width="2.3"/>
<line x1="464.0" y1="2900.9" x2="464.0" y2="2908.4" stroke="#000" stroke-width="2.3"/>
<text x="464.0" y="2938.3" font-size="34" text-anchor="middle">300</text>
<line x1="501.8" y1="2900.9" x2="501.8" y2="2905.4" stroke="#000" stroke-width="2.3"/>
<line x1="539.6" y1="2900.9" x2="539.6" y2="2908.4" stroke="#000" stroke-width="2.3"/>
<text x="539.6" y="2938.3" font-size="34" text-anchor="middle">360</text>
<line x1="577.5" y1="2900.9" x2="577.5" y2="2905.4" stroke="#000" stroke-width="2.3"/>
<line x1="615.3" y1="2900.9" x2="615.3" y2="2908.4" stroke="#000" stroke-width="2.3"/>
<text x="615.3" y="2938.3" font-size="34" text-anchor="middle">420</text>
<line x1="653.1" y1="2900.9" x2="653.1" y2="2905.4" stroke="#000" stroke-width="2.3"/>
<line x1="690.9" y1="2900.9" x2="690.9" y2="2908.4" stroke="#000" stroke-width="2.3"/>
<text x="690.9" y="2938.3" font-size="34" text-anchor="middle">480</text>
<line x1="728.8" y1="2900.9" x2="728.8" y2="2905.4" stroke="#000" stroke-width="2.3"/>
<line x1="766.6" y1="2900.9" x2="766.6" y2="2908.4" stroke="#000" stroke-width="2.3"/>
<text x="766.6" y="2938.3" font-size="34" text-anchor="middle">540</text>
<line x1="804.4" y1="2900.9" x2="804.4" y2="2905.4" stroke="#000" stroke-width="2.3"/>
<line x1="842.2" y1="2900.9" x2="842.2" y2="2908.4" stroke="#000" stroke-width="2.3"/>
<text x="842.2" y="2938.3" font-size="34" text-anchor="middle">600</text>
<line x1="880.1" y1="2900.9" x2="880.1" y2="2905.4" stroke="#000" stroke-width="2.3"/>
<line x1="917.9" y1="2900.9" x2="917.9" y2="2908.4" stroke="#000" stroke-width="2.3"/>
<text x="917.9" y="2938.3" font-size="34" text-anchor="middle">660</text>
<text transform="translate(552.2 2974.1) scale(1 1.0)" x="0" y="0" font-size="39.2">Temperature (K)</text>
<text transform="translate(375.1 2831.7) rotate(-90) scale(1 1.036)" x="0" y="0" font-size="37" fill="#000"><tspan font-size="37">K</tspan><tspan font-size="27" dy="11" dx="-3.3">e</tspan><tspan font-size="37" dy="-11" dx="2.4"> W</tspan><tspan font-size="37" dx="0.8"> m</tspan><tspan font-size="26" dy="-12.8" dx="3.0">-</tspan><tspan font-size="26" dx="0.4">1</tspan><tspan font-size="37" dy="12.8" dx="0.4"> K</tspan><tspan font-size="26" dy="-12.8" dx="-3.7">-</tspan><tspan font-size="26" dx="1.7">1</tspan></text>
</svg>
</body></html>
